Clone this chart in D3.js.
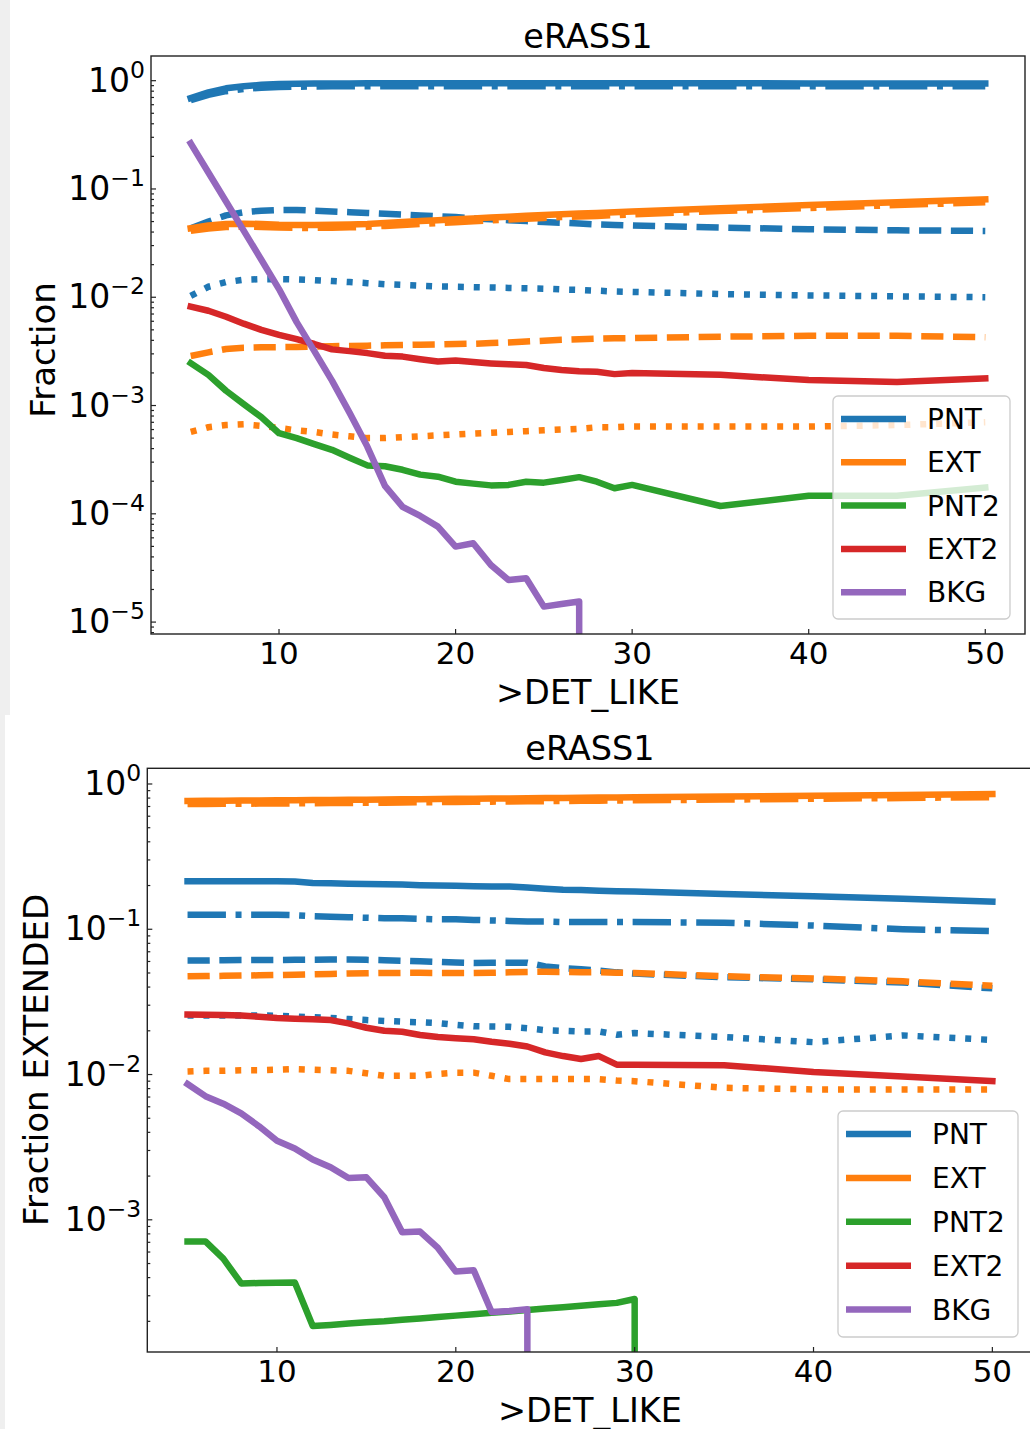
<!DOCTYPE html>
<html><head><meta charset="utf-8">
<script src="https://cdn.jsdelivr.net/npm/d3@7"></script>
<style>
body{margin:0;background:#efefef;}
svg{display:block;}
text{font-family:"DejaVu Sans",sans-serif;fill:#000;}
</style>
</head><body>
<svg id="chart" width="1030" height="1429"></svg>
<script>
// ---------------- DATA ----------------
const detLike = [5,6,7,8,9,10,11,12,13,14,15,16,17,18,19,20,21,22,23,24,25,26,27,28,29,30,35,40,45,50];
const classNames = ["PNT","EXT","PNT2","EXT2","BKG"];
const xTickValues = [10,20,30,40,50];
const topYExponents = [0,-1,-2,-3,-4,-5];
const botYExponents = [0,-1,-2,-3];
const titleText = "eRASS1";
const xLabelText = ">DET_LIKE";
const topYLabelText = "Fraction";
const botYLabelText = "Fraction EXTENDED";

// top panel: Fraction
const topPNT      = [0.69,0.78,0.85,0.89,0.915,0.93,0.935,0.94,0.942,0.944,0.945,0.945,0.945,0.945,0.945,0.945,0.945,0.945,0.945,0.945,0.945,0.945,0.945,0.945,0.945,0.945,0.945,0.944,0.943,0.942];
const topPNTdd    = [0.66,0.74,0.80,0.84,0.86,0.873,0.88,0.884,0.887,0.889,0.89,0.89,0.89,0.89,0.89,0.89,0.89,0.89,0.89,0.89,0.89,0.89,0.89,0.89,0.89,0.89,0.89,0.889,0.888,0.888];
const topPNTdash  = [0.0434,0.050,0.057,0.061,0.063,0.064,0.064,0.063,0.062,0.061,0.060,0.059,0.058,0.057,0.056,0.055,0.0535,0.0525,0.0515,0.0505,0.0495,0.0488,0.048,0.047,0.0465,0.046,0.044,0.0425,0.0415,0.041];
const topPNTdot   = [0.0103,0.0125,0.0138,0.0145,0.0147,0.0147,0.0146,0.0144,0.0141,0.0138,0.0135,0.0132,0.013,0.0128,0.0126,0.0125,0.0124,0.0123,0.0122,0.0121,0.012,0.0118,0.0117,0.0115,0.0113,0.0112,0.0107,0.0104,0.0102,0.0100];
const topEXT      = [0.0434,0.046,0.0475,0.0478,0.0475,0.0468,0.0465,0.0465,0.0467,0.047,0.0475,0.0485,0.0495,0.0505,0.0515,0.0525,0.0535,0.0545,0.0555,0.0565,0.0575,0.0585,0.0593,0.06,0.061,0.062,0.0665,0.071,0.0755,0.080];
const topEXTdd    = [0.041,0.0432,0.0446,0.0449,0.0446,0.044,0.0437,0.0437,0.0439,0.0442,0.0447,0.0456,0.0465,0.0475,0.0484,0.0494,0.0503,0.0512,0.0522,0.0531,0.054,0.055,0.0557,0.0564,0.0573,0.0583,0.0625,0.0667,0.071,0.0752];
const topEXTdash  = [0.00287,0.0031,0.00333,0.00342,0.00345,0.00346,0.00347,0.0035,0.00353,0.00355,0.00357,0.0036,0.00362,0.00365,0.00367,0.0037,0.00372,0.00377,0.00382,0.0039,0.00397,0.00405,0.0041,0.00415,0.00418,0.0042,0.00432,0.0044,0.0044,0.00428];
const topEXTdot   = [0.00057,0.00063,0.00066,0.00067,0.00065,0.00062,0.00059,0.00057,0.00054,0.00052,0.0005,0.0005,0.00051,0.00052,0.00053,0.00054,0.00055,0.00056,0.00057,0.00058,0.00059,0.0006,0.00061,0.00063,0.00063,0.00064,0.00064,0.00064,0.00066,0.0007];
const topPNT2     = [0.00246,0.00192,0.00137,0.00103,0.00078,0.000555,0.0005,0.00044,0.00039,0.00033,0.00028,0.000275,0.000255,0.00023,0.00022,0.000198,0.00019,0.000183,0.000185,0.000198,0.000194,0.000205,0.000218,0.000198,0.000172,0.000185,0.000118,0.000147,0.000147,0.000175];
const topEXT2     = [0.0082,0.0075,0.0066,0.0057,0.0050,0.0045,0.0041,0.0037,0.0033,0.00318,0.00305,0.00288,0.00283,0.00268,0.00255,0.0026,0.00252,0.00245,0.0024,0.00237,0.00222,0.00213,0.00207,0.00205,0.00195,0.002,0.00192,0.00172,0.00165,0.00178];
const topBKG      = [0.264,0.142,0.0766,0.0412,0.0222,0.0119,0.00589,0.00318,0.0017,0.000855,0.000418,0.000181,0.000116,0.0000955,0.0000762,0.0000498,0.0000535,0.0000337,0.0000245,0.0000254,0.0000139,0.0000147,0.0000155,0,0,0,0,0,0,0];

// bottom panel: Fraction EXTENDED
const botPNT      = [0.214,0.214,0.214,0.214,0.214,0.214,0.213,0.208,0.207,0.206,0.205,0.204,0.203,0.201,0.2,0.199,0.198,0.197,0.197,0.194,0.19,0.187,0.186,0.184,0.183,0.182,0.175,0.169,0.162,0.155];
const botPNTdd    = [0.126,0.126,0.126,0.126,0.126,0.126,0.125,0.123,0.122,0.121,0.12,0.119,0.119,0.118,0.117,0.117,0.116,0.115,0.114,0.113,0.113,0.112,0.112,0.112,0.112,0.112,0.111,0.106,0.1,0.097];
const botPNTdash  = [0.061,0.061,0.0612,0.0614,0.0615,0.0615,0.0616,0.0617,0.0618,0.0618,0.0616,0.0612,0.0607,0.0602,0.0596,0.059,0.0586,0.0588,0.0588,0.0588,0.0555,0.054,0.053,0.052,0.0505,0.0495,0.0468,0.0452,0.043,0.0392];
const botPNTdot   = [0.0255,0.0255,0.0255,0.0255,0.0255,0.0254,0.0251,0.0248,0.0245,0.0241,0.0237,0.0234,0.0231,0.0229,0.0226,0.022,0.0215,0.0214,0.0213,0.0208,0.0202,0.02,0.0198,0.0198,0.0188,0.0193,0.0181,0.0167,0.0186,0.0173];
const botEXT      = [0.765,0.766,0.768,0.769,0.771,0.772,0.774,0.775,0.777,0.778,0.78,0.782,0.784,0.786,0.788,0.79,0.792,0.794,0.796,0.798,0.8,0.802,0.804,0.806,0.808,0.81,0.82,0.83,0.84,0.852];
const botEXTdd    = [0.727,0.728,0.73,0.731,0.733,0.734,0.736,0.737,0.739,0.74,0.742,0.744,0.746,0.748,0.75,0.752,0.754,0.756,0.758,0.76,0.762,0.764,0.766,0.768,0.77,0.772,0.781,0.791,0.801,0.812];
const botEXTdash  = [0.0474,0.0476,0.0478,0.048,0.0482,0.0484,0.0487,0.049,0.0493,0.0496,0.0498,0.05,0.0501,0.0501,0.05,0.05,0.05,0.0502,0.0505,0.0508,0.051,0.0508,0.0505,0.0506,0.0502,0.05,0.0475,0.0458,0.0438,0.0408];
const botEXTdot   = [0.0105,0.0106,0.0106,0.0107,0.0107,0.0108,0.0109,0.0108,0.0107,0.0106,0.0102,0.0098,0.0098,0.0098,0.0101,0.0103,0.0103,0.0098,0.0093,0.0093,0.0093,0.0093,0.0093,0.0093,0.0091,0.009,0.0081,0.0079,0.0079,0.0079];
const botPNT2     = [0.00071,0.00071,0.00054,0.000365,0.000367,0.000368,0.00037,0.000186,0.000189,0.000193,0.000197,0.0002,0.000205,0.000209,0.000214,0.000219,0.000224,0.000229,0.000234,0.000239,0.000245,0.00025,0.000256,0.000262,0.000268,0.000285,0,0,0,0];
const botEXT2     = [0.0259,0.0258,0.0257,0.0255,0.025,0.0245,0.0242,0.024,0.0237,0.0225,0.021,0.02,0.0197,0.0187,0.0181,0.0178,0.0175,0.0168,0.0163,0.0156,0.0142,0.0134,0.0128,0.0134,0.0117,0.0117,0.0116,0.0104,0.0097,0.009];
const botBKG      = [0.0086,0.0071,0.0063,0.0054,0.0044,0.0035,0.0031,0.0026,0.0023,0.00194,0.00196,0.00143,0.00082,0.00083,0.00064,0.00044,0.00045,0.000232,0.000236,0.000242,0,0,0,0,0,0,0,0,0,0];

// ---------------- STYLE ----------------
const palette = {PNT:"#1f77b4", EXT:"#ff7f0e", PNT2:"#2ca02c", EXT2:"#d62728", BKG:"#9467bd"};
const LW = 6.5;
const dashStyles = {
  solid: null,
  dashdot: [6.4*6, 1.6*6, 1*6, 1.6*6],
  dashed: [3.7*6, 1.6*6],
  dotted: [1*6, 1.65*6]
};

const svg = d3.select("#chart");
svg.append("rect").attr("x",10).attr("y",0).attr("width",1020).attr("height",715).attr("fill","#fff");
svg.append("rect").attr("x",5).attr("y",715).attr("width",1025).attr("height",714).attr("fill","#fff");

function drawPanel(cfg, idx){
  const {x0,x1,y0,y1} = cfg.frame;
  const x = d3.scaleLinear().domain([2.75,52.25]).range([x0,x1]);
  const y = d3.scaleLog().domain(cfg.yDomain).range([y1,y0]);
  const g = svg.append("g");
  const clipId = "clip"+idx;
  g.append("clipPath").attr("id",clipId).append("rect")
    .attr("x",x0).attr("y",y0).attr("width",x1-x0).attr("height",y1-y0);

  const yPos = v => v > 0 ? y(v) : y1 + 200000;
  const line = d3.line().x(d=>x(d[0])).y(d=>yPos(d[1]));
  const lines = g.append("g").attr("clip-path",`url(#${clipId})`);
  cfg.series.forEach(s=>{
    const pts = detLike.map((xv,i)=>[xv,s.values[i]]);
    const p = lines.append("path").attr("d",line(pts))
      .attr("fill","none").attr("stroke",palette[s.cls]).attr("stroke-width",LW)
      .attr("stroke-linejoin","round");
    if(dashStyles[s.style]){
      p.attr("stroke-dasharray",dashStyles[s.style].join(",")).attr("stroke-linecap","butt");
    } else {
      p.attr("stroke-linecap","square");
    }
  });

  // ticks (inward)
  const tk = g.append("g").attr("stroke","#222").attr("stroke-width",1.2);
  xTickValues.forEach(v=>{
    tk.append("line").attr("x1",x(v)).attr("x2",x(v)).attr("y1",y1).attr("y2",y1-5);
  });
  const lo = Math.floor(Math.log10(cfg.yDomain[0])), hi = Math.ceil(Math.log10(cfg.yDomain[1]));
  for(let d=lo; d<=hi; d++){
    for(let k=1;k<=9;k++){
      const v = k*Math.pow(10,d);
      if(v < cfg.yDomain[0] || v > cfg.yDomain[1]) continue;
      const len = k===1 ? 5 : 3;
      tk.append("line").attr("x1",x0).attr("x2",x0+len).attr("y1",y(v)).attr("y2",y(v));
    }
  }
  // frame
  g.append("rect").attr("x",x0).attr("y",y0).attr("width",x1-x0).attr("height",y1-y0)
    .attr("fill","none").attr("stroke","#222").attr("stroke-width",1.4);

  // tick labels
  xTickValues.forEach(v=>{
    g.append("text").attr("x",x(v)).attr("y",cfg.xTickBase).attr("text-anchor","middle")
      .attr("font-size",31).text(v);
  });
  cfg.yExps.forEach(e=>{
    const t = g.append("text").attr("x",x0-6).attr("y",y(Math.pow(10,e))+11)
      .attr("text-anchor","end").attr("font-size",33);
    t.append("tspan").text("10");
    t.append("tspan").attr("font-size",23.5).attr("dy",-14).text(e<0 ? "\u2212"+(-e) : String(e));
  });

  // titles
  g.append("text").attr("x",(x0+x1)/2).attr("y",cfg.titleBase).attr("text-anchor","middle")
    .attr("font-size",33.5).text(titleText);
  g.append("text").attr("x",(x0+x1)/2).attr("y",cfg.xLabelBase).attr("text-anchor","middle")
    .attr("font-size",33.5).text(xLabelText);
  g.append("text").attr("transform",`translate(${cfg.yLabelX},${cfg.yLabelY}) rotate(-90)`)
    .attr("text-anchor","middle").attr("font-size",34).text(cfg.yLabel);

  // legend
  const L = cfg.legend;
  const lg = g.append("g");
  lg.append("rect").attr("x",L.x).attr("y",L.y).attr("width",L.w).attr("height",L.h)
    .attr("rx",5).attr("fill","#fff").attr("fill-opacity",0.8)
    .attr("stroke","#cccccc").attr("stroke-width",1.3);
  classNames.forEach((c,i)=>{
    const yy = L.y + L.first + i*L.step;
    lg.append("line").attr("x1",L.x+8).attr("x2",L.x+73).attr("y1",yy).attr("y2",yy)
      .attr("stroke",palette[c]).attr("stroke-width",LW).attr("stroke-linecap","butt");
    lg.append("text").attr("x",L.x+94).attr("y",yy+10).attr("font-size",28).text(c);
  });
}

drawPanel({
  frame:{x0:151,x1:1025,y0:56,y1:634},
  yDomain:[Math.pow(10,-5.11),Math.pow(10,0.228)],
  yExps: topYExponents,
  xTickBase:664, titleBase:48, xLabelBase:704, yLabelX:55, yLabelY:350, yLabel:topYLabelText,
  legend:{x:833,y:396,w:177,h:223,first:23,step:43.3},
  series:[
    {cls:"PNT",style:"solid",values:topPNT},
    {cls:"PNT",style:"dashdot",values:topPNTdd},
    {cls:"PNT",style:"dashed",values:topPNTdash},
    {cls:"PNT",style:"dotted",values:topPNTdot},
    {cls:"EXT",style:"solid",values:topEXT},
    {cls:"EXT",style:"dashdot",values:topEXTdd},
    {cls:"EXT",style:"dashed",values:topEXTdash},
    {cls:"EXT",style:"dotted",values:topEXTdot},
    {cls:"PNT2",style:"solid",values:topPNT2},
    {cls:"EXT2",style:"solid",values:topEXT2},
    {cls:"BKG",style:"solid",values:topBKG}
  ]
},0);

drawPanel({
  frame:{x0:147.3,x1:1032.6,y0:768.3,y1:1352},
  yDomain:[Math.pow(10,-3.91),Math.pow(10,0.108)],
  yExps: botYExponents,
  xTickBase:1382, titleBase:760, xLabelBase:1422, yLabelX:48, yLabelY:1060, yLabel:botYLabelText,
  legend:{x:838,y:1111,w:180,h:226,first:23,step:43.9},
  series:[
    {cls:"PNT",style:"solid",values:botPNT},
    {cls:"PNT",style:"dashdot",values:botPNTdd},
    {cls:"PNT",style:"dashed",values:botPNTdash},
    {cls:"PNT",style:"dotted",values:botPNTdot},
    {cls:"EXT",style:"solid",values:botEXT},
    {cls:"EXT",style:"dashdot",values:botEXTdd},
    {cls:"EXT",style:"dashed",values:botEXTdash},
    {cls:"EXT",style:"dotted",values:botEXTdot},
    {cls:"PNT2",style:"solid",values:botPNT2},
    {cls:"EXT2",style:"solid",values:botEXT2},
    {cls:"BKG",style:"solid",values:botBKG}
  ]
},1);
</script>
</body></html>
